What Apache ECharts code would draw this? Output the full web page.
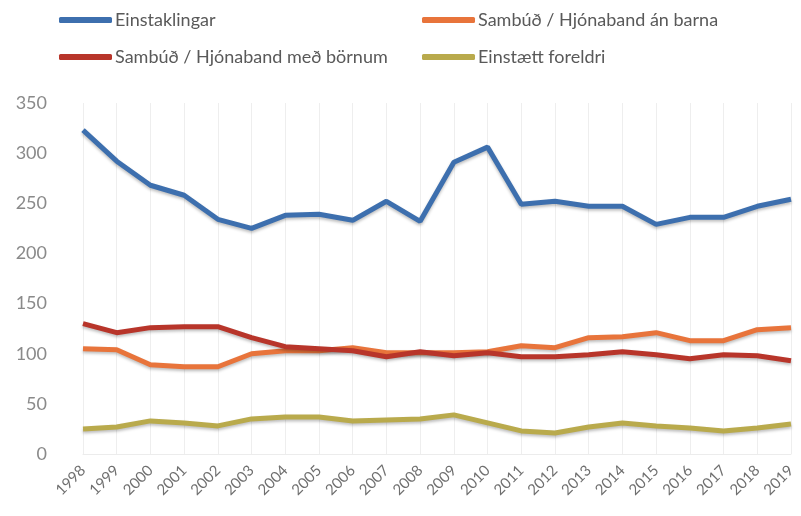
<!DOCTYPE html>
<html>
<head>
<meta charset="utf-8">
<script src="https://cdn.jsdelivr.net/npm/echarts@6/dist/echarts.min.js"></script>
<style>
  html, body { margin: 0; padding: 0; background: #fff; }
  #chart { width: 801px; height: 516px; }
</style>
</head>
<body>
<div id="chart"></div>
<script>
const years = ['1998', '1999', '2000', '2001', '2002', '2003', '2004', '2005', '2006', '2007', '2008',
    '2009', '2010', '2011', '2012', '2013', '2014', '2015', '2016', '2017', '2018', '2019']

const einstaklingar = [323, 292, 268, 258, 234, 225, 238, 239, 233, 252, 232, 291, 306, 249, 252, 247, 247, 229, 236, 236, 247, 254]
const anBarna = [105, 104, 89, 87, 87, 100, 103, 103, 106, 101, 101, 101, 102, 108, 106, 116, 117, 121, 113, 113, 124, 126]
const medBornum = [130, 121, 126, 127, 127, 116, 107, 105, 103, 97, 102, 98, 101, 97, 97, 99, 102, 99, 95, 99, 98, 93]
const einstaett = [25, 27, 33, 31, 28, 35, 37, 37, 33, 34, 35, 39, 31, 23, 21, 27, 31, 28, 26, 23, 26, 30]

const names = ['Einstaklingar', 'Sambúð / Hjónaband án barna', 'Sambúð / Hjónaband með börnum', 'Einstætt foreldri']
const colors = ['#3d6fae', '#e8743b', '#b8352a', '#b9aa4c']

const fontFamily = 'Lato, "Open Sans", sans-serif'

// one legend per item so each can sit where it sits in the picture
const legendPos = [[59, 11], [422, 11], [59, 48], [422, 48]]
const legends = names.map((n, i) => ({
    data: [n],
    left: legendPos[i][0],
    top: legendPos[i][1],
    padding: 0,
    icon: 'roundRect',
    itemWidth: 53,
    itemHeight: 6,
    textStyle: { color: '#595959', fontSize: 18, fontFamily, padding: [0, 0, 0, -2] }
}))

const mkSeries = (name, data, color) => ({
    name,
    type: 'line',
    data,
    symbol: 'none',
    lineStyle: {
        width: 5,
        color,
        shadowColor: 'rgba(0,0,0,0.25)',
        shadowBlur: 3,
        shadowOffsetY: 2
    },
    itemStyle: { color }
})

const myChart = echarts.init(document.getElementById('chart'))
const option = {
    backgroundColor: '#fff',
    animation: false,
    legend: legends,
    grid: {
        left: 83,
        right: 10,
        top: 103,
        bottom: 62
    },
    xAxis: {
        type: 'category',
        boundaryGap: false,
        data: years,
        axisLine: { lineStyle: { color: '#ececec' } },
        axisTick: { show: false },
        splitLine: { show: true, lineStyle: { color: '#eeeeee' } },
        axisLabel: {
            rotate: 45,
            interval: 0,
            margin: 14,
            color: '#6f6f6f',
            fontSize: 15,
            fontFamily
        }
    },
    yAxis: {
        type: 'value',
        min: 0,
        max: 350,
        interval: 50,
        splitLine: { show: false },
        axisLine: { show: false },
        axisTick: { show: false },
        axisLabel: {
            margin: 36,
            color: '#8a8a8a',
            fontSize: 18,
            fontFamily
        }
    },
    series: [
        mkSeries(names[0], einstaklingar, colors[0]),
        mkSeries(names[1], anBarna, colors[1]),
        mkSeries(names[2], medBornum, colors[2]),
        mkSeries(names[3], einstaett, colors[3])
    ]
}

option && myChart.setOption(option)
</script>
</body>
</html>
